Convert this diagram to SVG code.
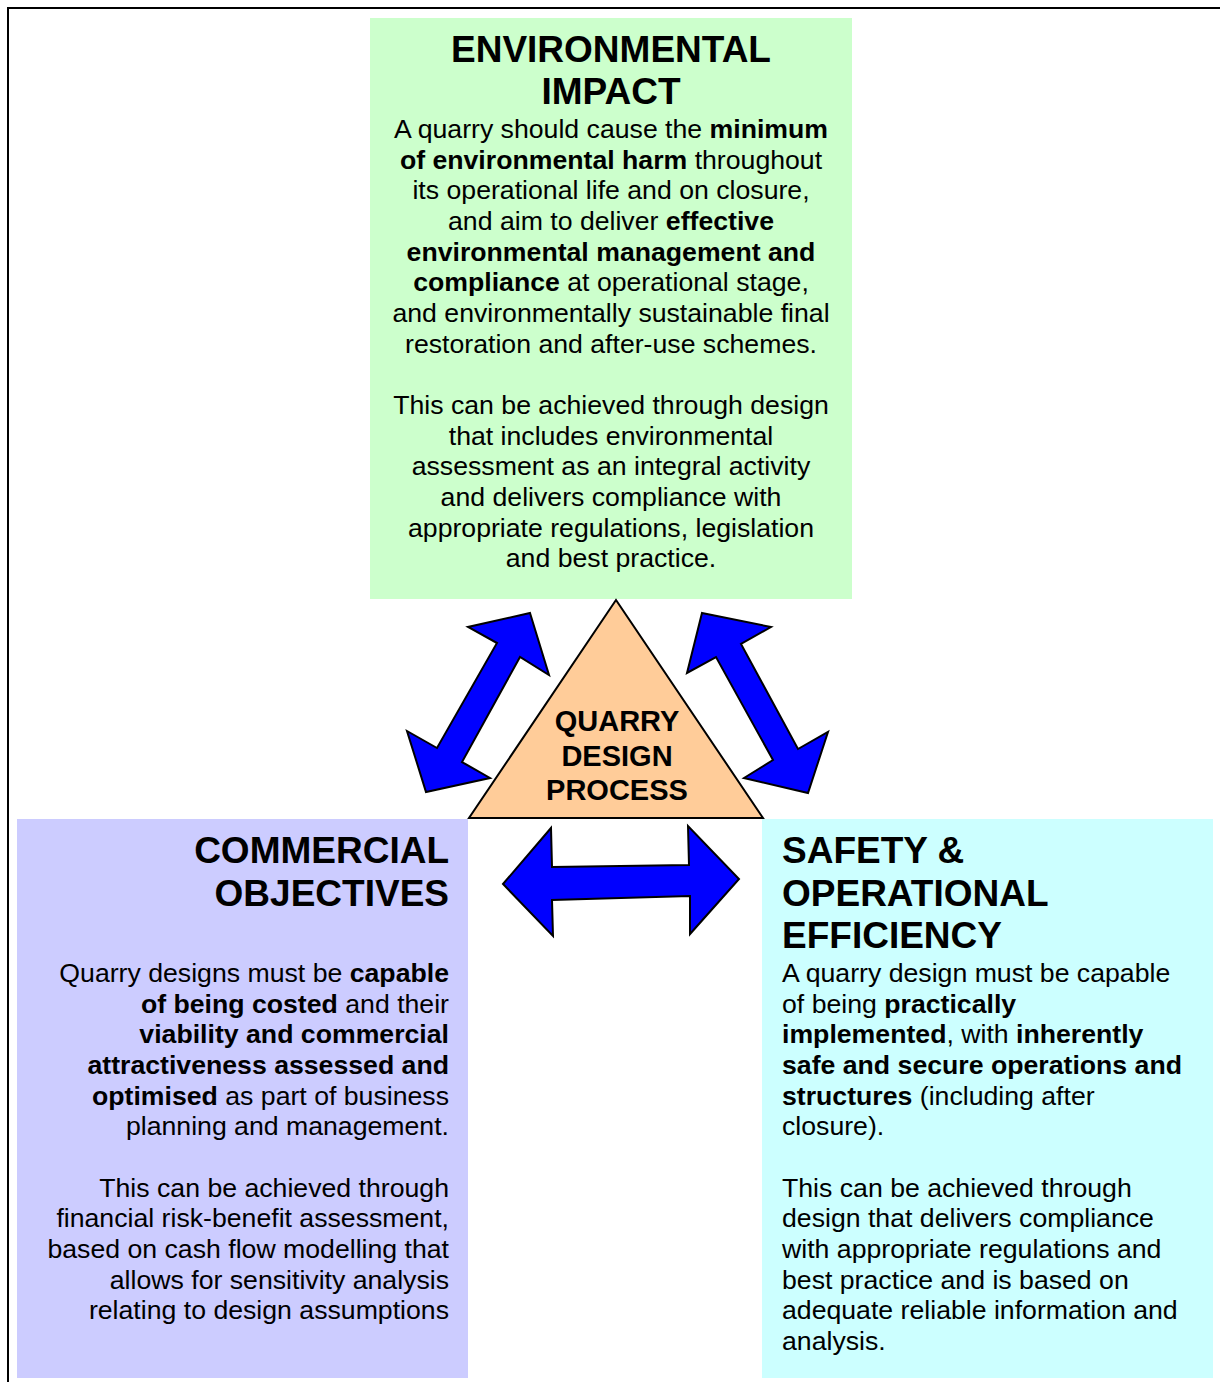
<svg xmlns="http://www.w3.org/2000/svg" width="1220" height="1382" viewBox="0 0 1220 1382">
<style>
.t{font-family:"Liberation Sans",Arial,sans-serif;fill:#000}
.h{font-size:37px;font-weight:bold}
.b{font-size:26.67px}
.tri{font-size:29px;font-weight:bold}
.bd{font-weight:bold}
.arr{fill:#0000FF;stroke:#000;stroke-width:2;stroke-linejoin:miter}
</style>
<rect width="1220" height="1382" fill="#fff"/>
<path d="M8,1382 V8 H1220" fill="none" stroke="#000" stroke-width="2"/>

<g id="env">
<rect x="370" y="18" width="482" height="581" fill="#CCFFCC"/>
<g class="t" text-anchor="middle">
<text class="h" x="611" y="62">ENVIRONMENTAL</text>
<text class="h" x="611" y="104">IMPACT</text>
<text class="b" x="611" y="138">A quarry should cause the <tspan class="bd">minimum</tspan></text>
<text class="b" x="611" y="168.7"><tspan class="bd">of environmental harm</tspan> throughout</text>
<text class="b" x="611" y="199.3">its operational life and on closure,</text>
<text class="b" x="611" y="230">and aim to deliver <tspan class="bd">effective</tspan></text>
<text class="b bd" x="611" y="260.7">environmental management and</text>
<text class="b" x="611" y="291.3"><tspan class="bd">compliance</tspan> at operational stage,</text>
<text class="b" x="611" y="322">and environmentally sustainable final</text>
<text class="b" x="611" y="352.7">restoration and after-use schemes.</text>
<text class="b" x="611" y="414">This can be achieved through design</text>
<text class="b" x="611" y="444.7">that includes environmental</text>
<text class="b" x="611" y="475.3">assessment as an integral activity</text>
<text class="b" x="611" y="506">and delivers compliance with</text>
<text class="b" x="611" y="536.7">appropriate regulations, legislation</text>
<text class="b" x="611" y="567.3">and best practice.</text>
</g>
</g>

<g id="commercial">
<rect x="17" y="819" width="451" height="559" fill="#CCCCFF"/>
<g class="t" text-anchor="end">
<text class="h" x="449" y="863">COMMERCIAL</text>
<text class="h" x="449" y="905.5">OBJECTIVES</text>
<text class="b" x="449" y="982">Quarry designs must be <tspan class="bd">capable</tspan></text>
<text class="b" x="449" y="1012.7"><tspan class="bd">of being costed</tspan> and their</text>
<text class="b bd" x="449" y="1043.3">viability and commercial</text>
<text class="b bd" x="449" y="1074">attractiveness assessed and</text>
<text class="b" x="449" y="1104.7"><tspan class="bd">optimised</tspan> as part of business</text>
<text class="b" x="449" y="1135.3">planning and management.</text>
<text class="b" x="449" y="1196.7">This can be achieved through</text>
<text class="b" x="449" y="1227.3">financial risk-benefit assessment,</text>
<text class="b" x="449" y="1258">based on cash flow modelling that</text>
<text class="b" x="449" y="1288.7">allows for sensitivity analysis</text>
<text class="b" x="449" y="1319.3">relating to design assumptions</text>
</g>
</g>

<g id="safety">
<rect x="762" y="819" width="451" height="559" fill="#CCFFFF"/>
<g class="t">
<text class="h" x="782" y="863">SAFETY &amp;</text>
<text class="h" x="782" y="905.5">OPERATIONAL</text>
<text class="h" x="782" y="948">EFFICIENCY</text>
<text class="b" x="782" y="982">A quarry design must be capable</text>
<text class="b" x="782" y="1012.7">of being <tspan class="bd">practically</tspan></text>
<text class="b" x="782" y="1043.3"><tspan class="bd">implemented</tspan>, with <tspan class="bd">inherently</tspan></text>
<text class="b bd" x="782" y="1074">safe and secure operations and</text>
<text class="b" x="782" y="1104.7"><tspan class="bd">structures</tspan> (including after</text>
<text class="b" x="782" y="1135.3">closure).</text>
<text class="b" x="782" y="1196.7">This can be achieved through</text>
<text class="b" x="782" y="1227.3">design that delivers compliance</text>
<text class="b" x="782" y="1258">with appropriate regulations and</text>
<text class="b" x="782" y="1288.7">best practice and is based on</text>
<text class="b" x="782" y="1319.3">adequate reliable information and</text>
<text class="b" x="782" y="1350">analysis.</text>
</g>
</g>

<g id="process">
<polygon points="616,600 469,818 763,818" fill="#FFCC99" stroke="#000" stroke-width="2"/>
<g class="t" text-anchor="middle">
<text class="tri" x="617" y="731">QUARRY</text>
<text class="tri" x="617" y="765.5">DESIGN</text>
<text class="tri" x="617" y="800">PROCESS</text>
</g>
</g>

<g id="connectors">
<polygon class="arr" points="530,613 549,675 520,657 462,762 490,778 426,792 407,731 437,748 497,643 468,627"/>
<polygon class="arr" points="702,613 771,627 741,644 798,749 828,732 808,793 744,778 773,760 716,657 687,673"/>
<polygon class="arr" points="503,884 551,828 552,867 689,865 688,826 739,879 690,934 690,896 552,900 553,936"/>
</g>
</svg>
